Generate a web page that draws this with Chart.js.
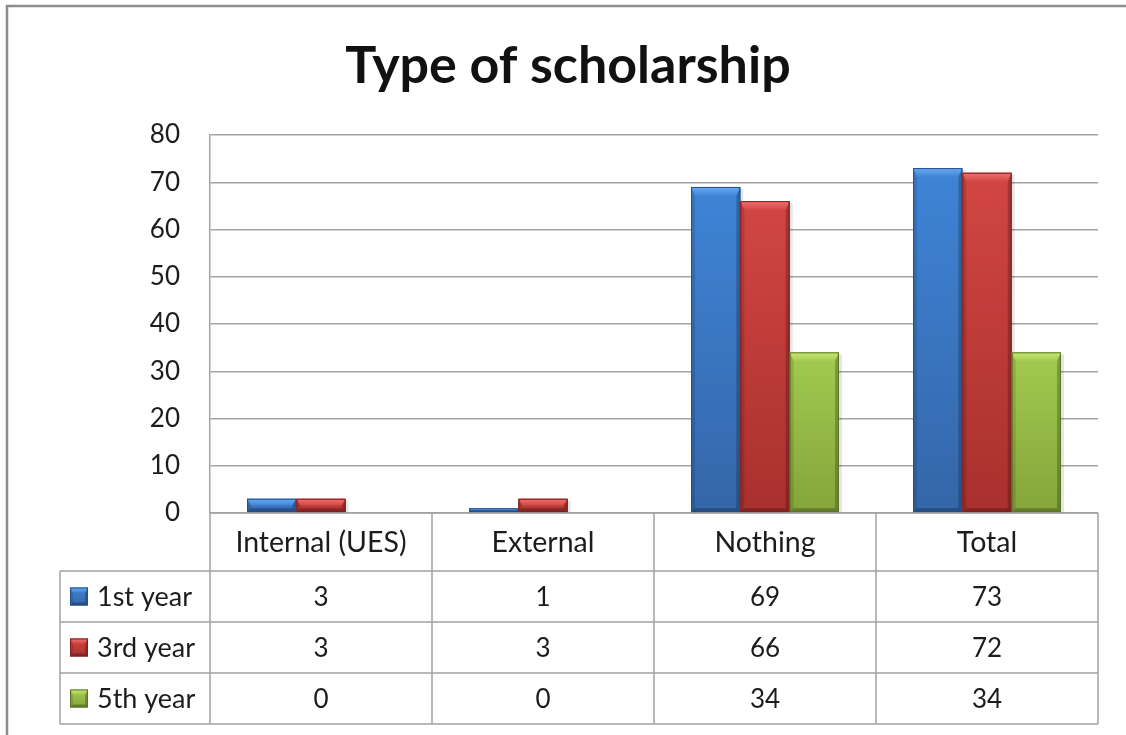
<!DOCTYPE html>
<html>
<head>
<meta charset="utf-8">
<title>Type of scholarship</title>
<script src="https://cdn.jsdelivr.net/npm/chart.js@4.4.0/dist/chart.umd.min.js"></script>
<style>
    html, body { margin: 0; padding: 0; background: #fff; }
    #wrap { width: 1126px; height: 735px; position: relative; }
</style>
</head>
<body>
<div id="wrap"><canvas id="canvas-scholarship"></canvas></div>
<script>
const chartTitle = 'Type of scholarship';
const categories = ['Internal (UES)', 'External', 'Nothing', 'Total'];
const seriesNames = ['1st year', '3rd year', '5th year'];
const firstYear = [3, 1, 69, 73];
const thirdYear = [3, 3, 66, 72];
const fifthYear = [0, 0, 34, 34];
const yMax = 80;
const yStep = 10;

const FONT = 'Lato, "Open Sans", sans-serif';

// main / light / dark shades for each series
const palettes = [
    { main: '#3d7ecd', top: '#3f84d6', bottom: '#3466a9', light: '#6aabf0', dark: '#23508c' },
    { main: '#cc3d3b', top: '#d24643', bottom: '#a8302e', light: '#f07370', dark: '#7f1f1e' },
    { main: '#9bc348', top: '#a3ca50', bottom: '#84a53b', light: '#cbe878', dark: '#587522' },
];

const seriesValues = [firstYear, thirdYear, fifthYear];

// Funcs

const drawBevel = (ctx, left, top, right, bottom, pal, bt, bs) => {
    const w = right - left;
    const h = bottom - top;
    if (h <= 0.5 || w <= 0) return;
    const t = Math.min(bt, h / 2);
    const s = Math.min(bs, w / 4, h / 2);

    const g = ctx.createLinearGradient(0, top, 0, bottom);
    g.addColorStop(0, pal.top);
    g.addColorStop(1, pal.bottom);
    ctx.fillStyle = g;
    ctx.fillRect(left, top, w, h);

    // top bevel
    const gt = ctx.createLinearGradient(0, top, 0, top + t);
    gt.addColorStop(0, pal.light);
    gt.addColorStop(1, pal.top);
    ctx.fillStyle = gt;
    ctx.beginPath();
    ctx.moveTo(left, top);
    ctx.lineTo(right, top);
    ctx.lineTo(right - s, top + t);
    ctx.lineTo(left + s, top + t);
    ctx.closePath();
    ctx.fill();

    // side and bottom bevels
    ctx.fillStyle = 'rgba(0,0,0,0.12)';
    ctx.beginPath();
    ctx.moveTo(left, top);
    ctx.lineTo(left + s, top + t);
    ctx.lineTo(left + s, bottom - s);
    ctx.lineTo(left, bottom);
    ctx.closePath();
    ctx.fill();

    ctx.fillStyle = 'rgba(0,0,0,0.22)';
    ctx.beginPath();
    ctx.moveTo(right, top);
    ctx.lineTo(right - s, top + t);
    ctx.lineTo(right - s, bottom - s);
    ctx.lineTo(right, bottom);
    ctx.closePath();
    ctx.fill();

    ctx.fillStyle = 'rgba(0,0,0,0.25)';
    ctx.beginPath();
    ctx.moveTo(left, bottom);
    ctx.lineTo(left + s, bottom - s);
    ctx.lineTo(right - s, bottom - s);
    ctx.lineTo(right, bottom);
    ctx.closePath();
    ctx.fill();

    ctx.strokeStyle = pal.dark;
    ctx.lineWidth = 1;
    ctx.strokeRect(left + 0.5, top + 0.5, w - 1, h - 1);
};

const framePlugin = {
    id: 'frame',
    beforeDraw(chart) {
        const ctx = chart.ctx;
        ctx.save();
        ctx.fillStyle = '#fff';
        ctx.fillRect(0, 0, chart.width, chart.height);
        ctx.strokeStyle = '#8c8c8c';
        ctx.lineWidth = 2.5;
        ctx.strokeRect(7, 6, chart.width + 20, chart.height + 20);

        // title, centred on the whole frame
        ctx.fillStyle = '#111';
        ctx.font = 'bold 52px ' + FONT;
        ctx.textAlign = 'center';
        ctx.textBaseline = 'alphabetic';
        ctx.fillText(chartTitle, 568, 83);
        ctx.restore();
    }
};

const bevelPlugin = {
    id: 'bevel',
    beforeDatasetsDraw(chart) {
        const ctx = chart.ctx;
        ctx.save();
        ctx.fillStyle = 'rgba(0,0,0,0.10)';
        chart.data.datasets.forEach((ds, i) => {
            chart.getDatasetMeta(i).data.forEach(bar => {
                const h = bar.base - bar.y;
                if (h <= 0.5) return;
                ctx.fillRect(bar.x - bar.width / 2 + 3, bar.y + 2, bar.width, h - 2);
            });
        });
        ctx.restore();
    },
    afterDatasetsDraw(chart) {
        const ctx = chart.ctx;
        ctx.save();
        chart.data.datasets.forEach((ds, i) => {
            const pal = palettes[i];
            chart.getDatasetMeta(i).data.forEach(bar => {
                drawBevel(ctx, bar.x - bar.width / 2, bar.y, bar.x + bar.width / 2, bar.base, pal, 9, 4);
            });
        });
        ctx.restore();
    }
};

// data table under the plot area
const tablePlugin = {
    id: 'dataTable',
    afterDraw(chart) {
        const ctx = chart.ctx;
        const area = chart.chartArea;
        const xScale = chart.scales.x;
        const n = categories.length;
        const colW = (area.right - area.left) / n;
        const headTop = area.bottom;
        const headH = 58;
        const rowH = 51;
        const tableLeft = 60;
        const rowsTop = headTop + headH;
        const tableBottom = rowsTop + rowH * seriesNames.length;

        ctx.save();
        ctx.strokeStyle = '#a3a3a3';
        ctx.lineWidth = 1.5;

        ctx.beginPath();
        // header row border
        ctx.moveTo(area.left, headTop);
        ctx.lineTo(area.right, headTop);
        for (let r = 0; r <= seriesNames.length; r++) {
            const y = rowsTop + r * rowH;
            ctx.moveTo(tableLeft, y);
            ctx.lineTo(area.right, y);
        }
        ctx.moveTo(tableLeft, rowsTop);
        ctx.lineTo(tableLeft, tableBottom);
        for (let c = 0; c <= n; c++) {
            const x = area.left + c * colW;
            ctx.moveTo(x, headTop);
            ctx.lineTo(x, tableBottom);
        }
        ctx.stroke();

        ctx.fillStyle = '#1c1c1c';
        ctx.textAlign = 'center';
        ctx.textBaseline = 'middle';
        categories.forEach((cat, c) => {
            const cx = xScale.getPixelForValue(c);
            ctx.font = '28.5px ' + FONT;
            ctx.fillText(cat, cx, headTop + headH / 2 + 1);
            ctx.font = '26px ' + FONT;
            seriesValues.forEach((vals, r) => {
                ctx.fillText(String(vals[c]), cx, rowsTop + r * rowH + rowH / 2 + 1);
            });
        });

        ctx.textAlign = 'left';
        ctx.font = '27px ' + FONT;
        seriesNames.forEach((name, r) => {
            const cy = rowsTop + r * rowH + rowH / 2;
            drawBevel(ctx, 70, cy - 9, 88, cy + 9, palettes[r], 5, 3);
            ctx.fillStyle = '#1c1c1c';
            ctx.fillText(name, 97, cy + 1);
        });
        ctx.restore();
    }
};

const chartConfig = {
    type: 'bar',
    data: {
        labels: categories,
        datasets: seriesNames.map((name, i) => ({
            label: name,
            data: seriesValues[i],
            backgroundColor: palettes[i].main,
            borderWidth: 0,
            categoryPercentage: 3 / 4.5,
            barPercentage: 1,
        }))
    },
    options: {
        responsive: true,
        maintainAspectRatio: false,
        animation: false,
        devicePixelRatio: 1,
        layout: {
            padding: { left: 0, right: 28, top: 135, bottom: 222 }
        },
        scales: {
            x: {
                display: false,
            },
            y: {
                min: 0,
                max: yMax,
                ticks: {
                    stepSize: yStep,
                    padding: 30,
                    color: '#1c1c1c',
                    font: { family: FONT, size: 26 },
                },
                grid: {
                    color: '#a3a3a3',
                    lineWidth: 1.5,
                    drawTicks: false,
                    tickLength: 0,
                },
                border: { display: true, color: '#a3a3a3', width: 1.5 },
                afterFit(scale) {
                    scale.width = 210;
                },
            }
        },
        plugins: {
            legend: { display: false },
            tooltip: { enabled: false },
            title: { display: false },
        }
    },
    plugins: [framePlugin, bevelPlugin, tablePlugin],
};

const scholarshipChart = new Chart(document.getElementById('canvas-scholarship').getContext('2d'), chartConfig);
</script>
</body>
</html>
